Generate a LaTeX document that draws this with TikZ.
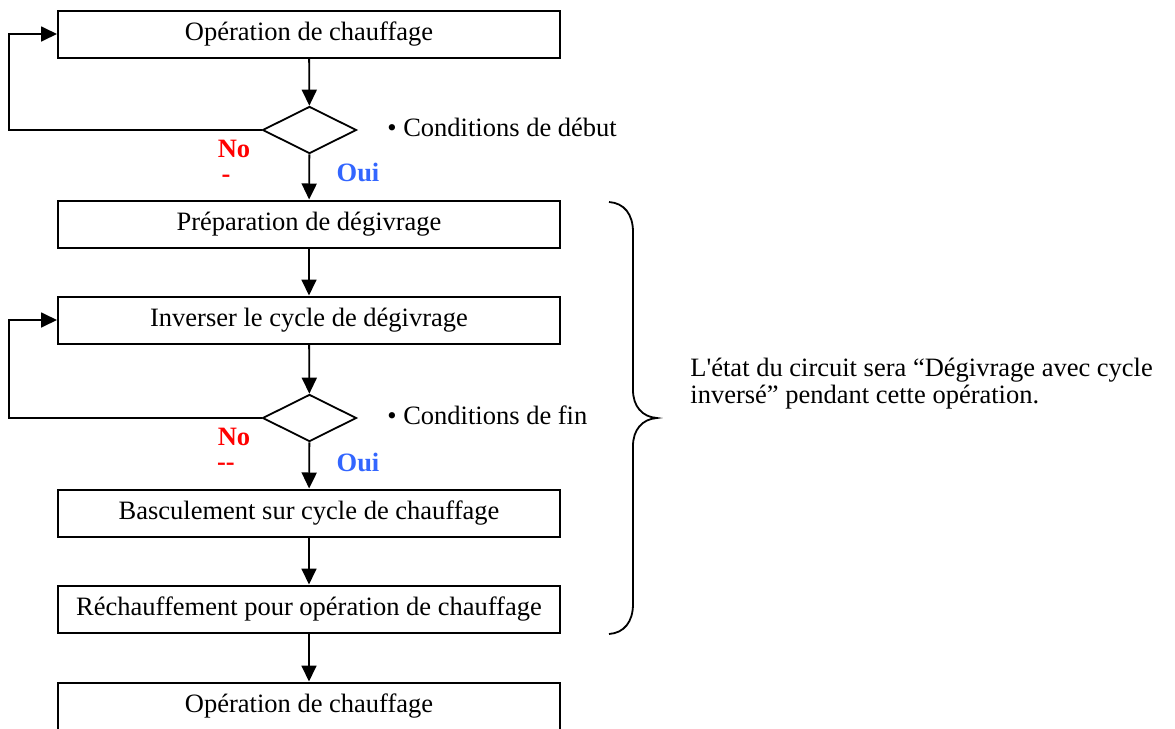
\documentclass[tikz,border=0pt]{standalone}
\usepackage{fontspec}
\setmainfont{Liberation Serif}[Ligatures=TeXOff]
\usepackage{tikz}
\usetikzlibrary{shapes.geometric,arrows.meta}
\definecolor{rouge}{RGB}{255,0,0}
\definecolor{bleu}{RGB}{51,102,255}

\tikzset{
  etape/.style={draw, line width=1pt, minimum width=251pt, minimum height=23.5pt, inner sep=0pt},
  test/.style={draw, diamond, aspect=2, line width=0.9pt, minimum width=47pt, minimum height=23.5pt, inner sep=0pt},
  fleche/.style={line width=0.9pt, -{Triangle[length=8pt,width=7.5pt]}},
  non/.style={text=rouge, inner sep=0pt, font=\fontsize{13.25}{15}\selectfont\bfseries},
  oui/.style={text=bleu, font=\fontsize{13.25}{15}\selectfont\bfseries}
}

\begin{document}
\begin{tikzpicture}[x=0.5pt, y=-0.5pt, font=\fontsize{13.25}{15}\selectfont]
      \useasboundingbox (0,0) rectangle (1175,729);
      \draw
      (309,34) node[etape] (C1) {Opération de chauffage}
      (309.5,130) node[test] (T1) {}
      (309,224) node[etape] (P) {Préparation de dégivrage}
      (309,320) node[etape] (I) {Inverser le cycle de dégivrage}
      (309.5,418) node[test] (T2) {}
      (309,513) node[etape] (B) {Basculement sur cycle de chauffage}
      (309,609) node[etape] (R) {Réchauffement pour opération de chauffage}
      (309,706) node[etape] (C2) {Opération de chauffage};
      \draw
      (387,127) node[anchor=west, inner sep=0pt] (D) {• Conditions de début}
      (387,415) node[anchor=west, inner sep=0pt] (F) {• Conditions de fin}
      (234,149) node[non] (N1) {No}
      (226,179) node[non] (N1b) {-}
      (234,437) node[non] (N2) {No}
      (226,467) node[non] (N2b) {--}
      (358,172) node[oui] (O1) {Oui}
      (358,462) node[oui] (O2) {Oui}
      (690,384) node[anchor=west, align=left, inner sep=0pt,
        font=\fontsize{13.25}{13.6}\selectfont] (E)
        {L'état du circuit sera “Dégivrage avec cycle\\inversé” pendant cette opération.};
      \coordinate (r1) at (9,130);
      \coordinate (r2) at (9,418);
      \draw[fleche] (C1) -- (T1);
      \draw[fleche] (T1) -- (P);
      \draw[fleche] (T1.west) -- (r1) |- (C1.west);
      \draw[fleche] (P) -- (I);
      \draw[fleche] (I) -- (T2);
      \draw[fleche] (T2) -- (B);
      \draw[fleche] (T2.west) -- (r2) |- (I.west);
      \draw[fleche] (B) -- (R);
      \draw[fleche] (R) -- (C2);
      % accolade
      \draw[line width=0.9pt]
      (609,202) .. controls (624,203) and (633,214) .. (633,232) -- (633,390)
      .. controls (633,406) and (642,417) .. (657,418)
      .. controls (642,419) and (633,430) .. (633,446) -- (633,604)
      .. controls (633,622) and (624,633) .. (609,634);
    \end{tikzpicture}
\end{document}
